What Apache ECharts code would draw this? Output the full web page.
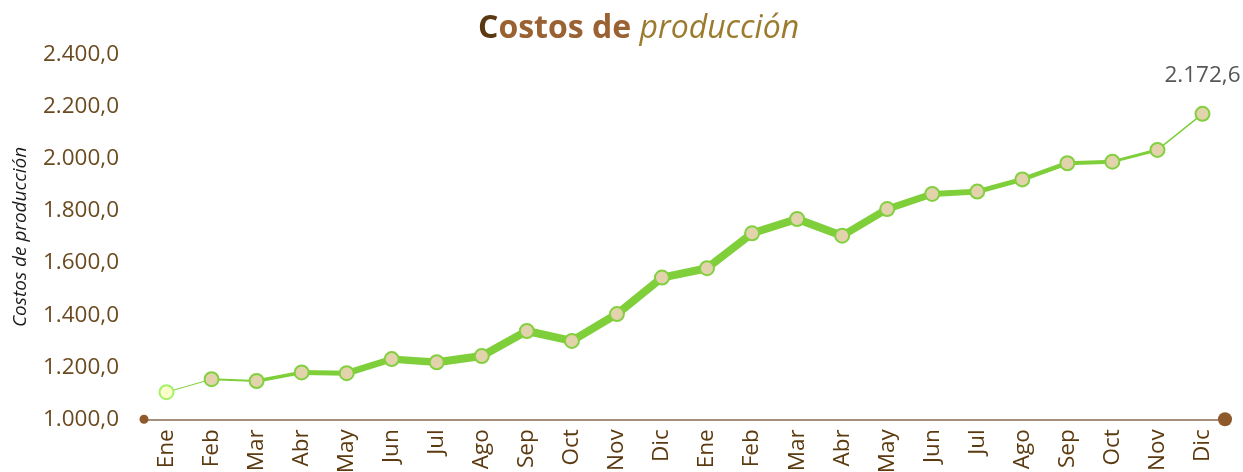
<!DOCTYPE html>
<html>
<head>
<meta charset="utf-8">
<script src="https://cdn.jsdelivr.net/npm/echarts@6/dist/echarts.min.js"></script>
<style>
  html, body { margin: 0; padding: 0; background: #ffffff; }
  #chart { width: 1243px; height: 472px; }
</style>
</head>
<body>
<div id="chart"></div>
<script>
// Two years of monthly production costs
const months = ['Ene','Feb','Mar','Abr','May','Jun','Jul','Ago','Sep','Oct','Nov','Dic',
                'Ene','Feb','Mar','Abr','May','Jun','Jul','Ago','Sep','Oct','Nov','Dic'];
const costs = [1104, 1154, 1147, 1180, 1177, 1231, 1219, 1243, 1339, 1301, 1404, 1544,
               1580, 1714, 1769, 1705, 1807, 1865, 1874, 1921, 1983, 1989, 2034, 2172.6];
const yTicks = { min: 1000, max: 2400, step: 200 };

// Stroke width of each segment between consecutive months (tapered line)
const segmentWidths = [1, 2, 3.5, 5, 6.5, 7.5, 8, 8, 8, 8, 8, 8,
                       8, 8, 8, 7.5, 7, 6, 5, 4.5, 4, 3, 1.5];

const FONT = 'Open Sans';
const LINE_GREEN = '#7fcf3b';

function fmtNumber(v) {
  const parts = Number(v).toFixed(1).split('.');
  const intPart = parts[0].replace(/\B(?=(\d{3})+(?!\d))/g, '.');
  return intPart + ',' + parts[1];
}

const segmentSeries = segmentWidths.map(function (w, i) {
  return {
    type: 'line',
    data: costs.map(function (v, j) { return (j === i || j === i + 1) ? v : '-'; }),
    showSymbol: false,
    symbol: 'none',
    silent: true,
    z: 2,
    lineStyle: { color: LINE_GREEN, width: w, cap: 'round' },
    emphasis: { disabled: true }
  };
});

const pointSeries = {
  type: 'scatter',
  z: 5,
  symbolSize: 14,
  itemStyle: { color: '#e3d3ad', borderColor: '#82d03f', borderWidth: 2, opacity: 1 },
  data: costs.map(function (v, i) {
    const item = { value: v };
    if (i === 0) {
      item.itemStyle = { color: '#fbffcc', borderColor: '#a6f067', borderWidth: 2, opacity: 1 };
    }
    if (i === costs.length - 1) {
      item.label = {
        show: true,
        position: 'top',
        distance: 19,
        formatter: function (p) { return fmtNumber(p.value); },
        color: '#575757',
        fontSize: 22.5,
        fontFamily: FONT
      };
    }
    return item;
  }),
  emphasis: { disabled: true }
};

const baseX = {
  type: 'category',
  data: months,
  boundaryGap: true,
  position: 'bottom',
  axisTick: { show: false },
  splitLine: { show: false }
};

const option = {
  animation: false,
  backgroundColor: '#ffffff',
  title: {
    text: '{c|C}{a|ostos de }{b|producción}',
    left: 473,
    top: 8,
    textStyle: {
      rich: {
        c: { fontFamily: FONT, fontWeight: 'bold', fontSize: 32, color: '#5a3812' },
        a: { fontFamily: FONT, fontWeight: 'bold', fontSize: 32, color: '#9a6133' },
        b: { fontFamily: FONT, fontStyle: 'italic', fontWeight: 'normal', fontSize: 32, color: '#9c7b2e' }
      }
    }
  },
  grid: {
    left: 144, right: 18, top: 54.6, bottom: 52.7,
    containLabel: false,
    outerBoundsMode: 'none'
  },
  xAxis: [
    Object.assign({}, baseX, {
      axisLine: { show: true, onZero: false, lineStyle: { color: '#a58e7c', width: 2 } },
      axisLabel: {
        interval: 0, rotate: 90, margin: 10,
        fontSize: 22.5, fontFamily: FONT, color: '#5c3a10'
      }
    }),
    Object.assign({}, baseX, {
      axisLine: { show: true, onZero: false, symbol: ['circle', 'none'], symbolSize: [9, 9],
                  lineStyle: { color: '#8e5a2c', width: 0 } },
      axisLabel: { show: false }
    }),
    Object.assign({}, baseX, {
      axisLine: { show: true, onZero: false, symbol: ['none', 'circle'], symbolSize: [14, 14],
                  lineStyle: { color: '#8e5a2c', width: 0 } },
      axisLabel: { show: false }
    })
  ],
  yAxis: {
    type: 'value',
    min: yTicks.min,
    max: yTicks.max,
    interval: yTicks.step,
    name: 'Costos de producción',
    nameLocation: 'middle',
    nameGap: 114,
    nameTextStyle: { fontFamily: FONT, fontStyle: 'italic', fontSize: 19, color: '#1a1a1a' },
    axisLine: { show: false },
    axisTick: { show: false },
    splitLine: { show: false },
    axisLabel: {
      margin: 25,
      fontSize: 22.5,
      fontFamily: FONT,
      color: '#6b4a1f',
      formatter: fmtNumber
    }
  },
  series: segmentSeries.concat([pointSeries])
};

const chart = echarts.init(document.getElementById('chart'), null, { renderer: 'canvas' });
chart.setOption(option);
</script>
</body>
</html>
